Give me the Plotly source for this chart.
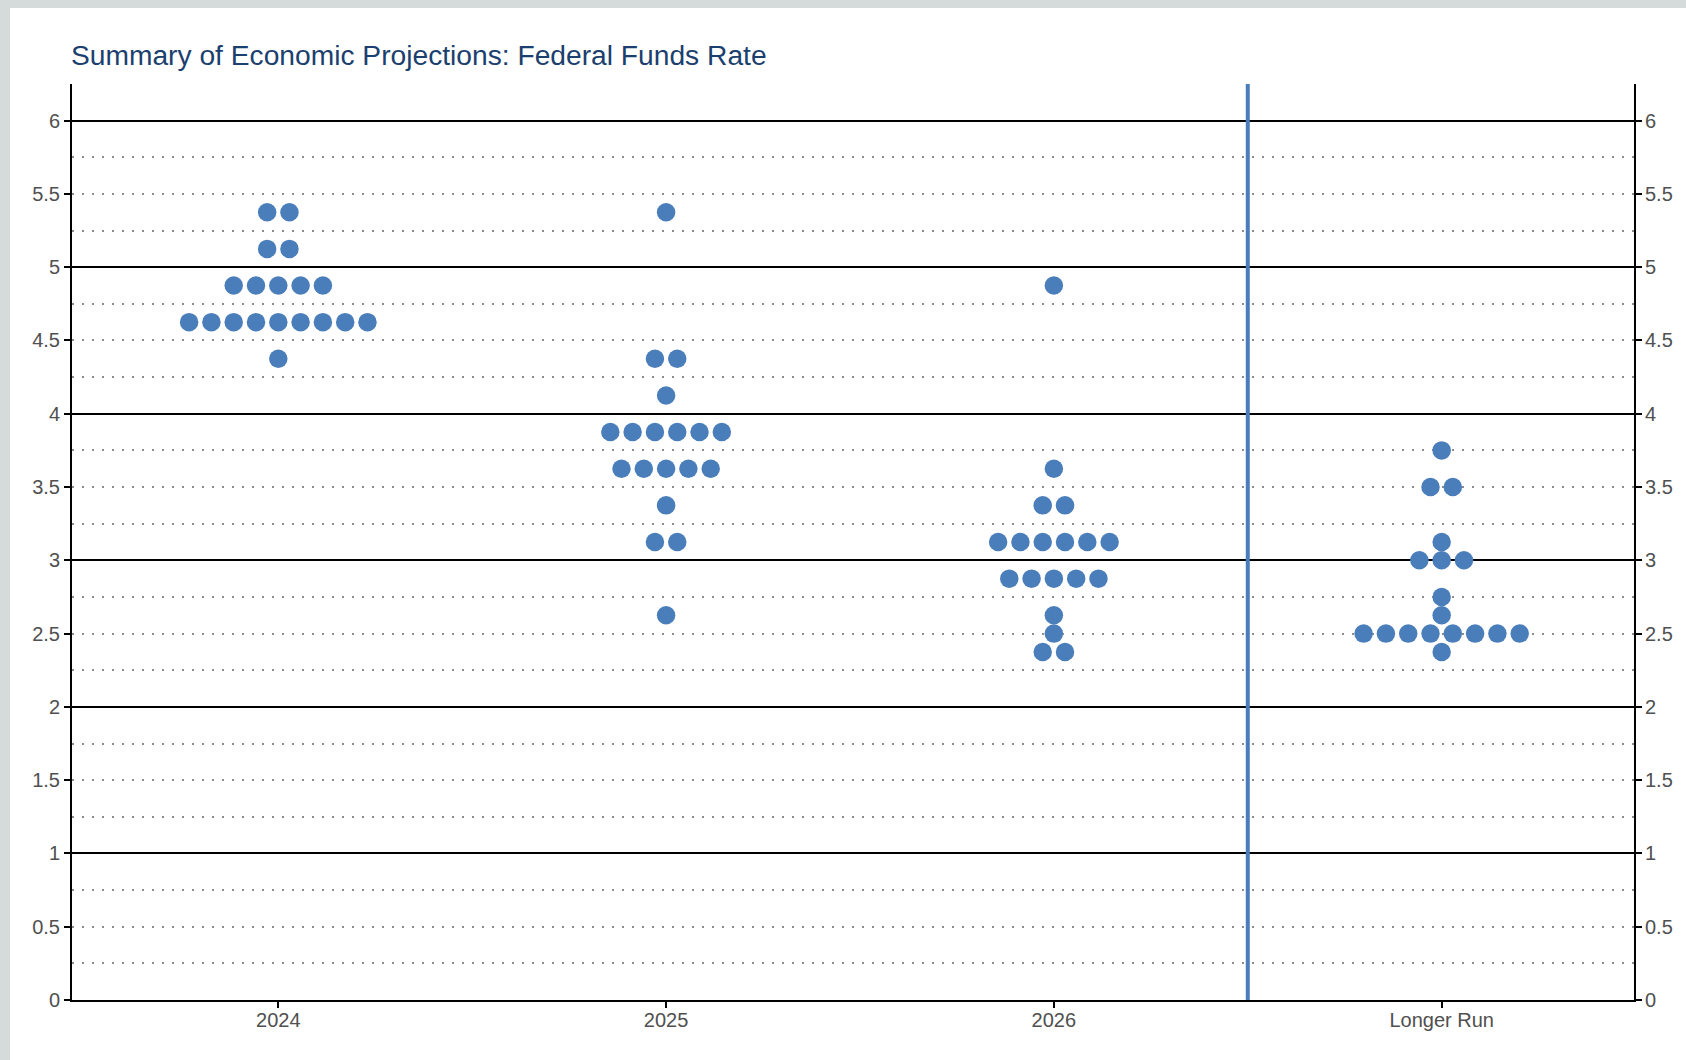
import plotly.graph_objects as go

# FOMC participants' projections of the appropriate federal funds rate
CATEGORIES = ["2024", "2025", "2026", "Longer Run"]

RATES_2024 = [5.375, 5.125, 4.875, 4.625, 4.375]
COUNTS_2024 = [2, 2, 5, 9, 1]

RATES_2025 = [5.375, 4.375, 4.125, 3.875, 3.625, 3.375, 3.125, 2.625]
COUNTS_2025 = [1, 2, 1, 6, 5, 1, 2, 1]

RATES_2026 = [4.875, 3.625, 3.375, 3.125, 2.875, 2.625, 2.5, 2.375]
COUNTS_2026 = [1, 1, 2, 6, 5, 1, 1, 2]

RATES_LR = [3.75, 3.5, 3.125, 3.0, 2.75, 2.625, 2.5, 2.375]
COUNTS_LR = [1, 2, 1, 3, 1, 1, 8, 1]

Y_TICKS = [i * 0.5 for i in range(13)]

DOT_COLOR = "#4a7ebb"
DOT_STEP = 0.0575  # horizontal spacing between side-by-side dots (category units)

# figure geometry (px)
W, H = 1686, 1060
ML, MR, MT, MB = 72, 52, 84, 60
PW, PH = W - ML - MR, H - MT - MB


def px_x(px):
    return (px - ML) / PW


def px_y(py):
    return (H - MB - py) / PH


def dodge(cat_index, rates, counts):
    xs, ys = [], []
    for r, n in zip(rates, counts):
        for k in range(n):
            xs.append(cat_index + (k - (n - 1) / 2) * DOT_STEP)
            ys.append(r)
    return xs, ys


groups = [(RATES_2024, COUNTS_2024), (RATES_2025, COUNTS_2025),
          (RATES_2026, COUNTS_2026), (RATES_LR, COUNTS_LR)]
all_x, all_y = [], []
for i, (rates, counts) in enumerate(groups):
    xs, ys = dodge(i, rates, counts)
    all_x += xs
    all_y += ys

fig = go.Figure()
fig.add_trace(go.Scatter(
    x=all_x, y=all_y, mode="markers",
    marker=dict(size=18.5, color=DOT_COLOR, line=dict(width=0)),
    showlegend=False, hoverinfo="y",
))
# empty traces so the right-hand axis and the grid axis are laid out
fig.add_trace(go.Scatter(x=[], y=[], yaxis="y2", showlegend=False))
fig.add_trace(go.Scatter(x=[], y=[], yaxis="y3", showlegend=False))

Y_RANGE = [0, 6.25]
tick_font = dict(family="Liberation Sans, Arial, sans-serif", size=20, color="#505050")

fig.update_layout(
    width=W, height=H,
    margin=dict(l=ML, r=MR, t=MT, b=MB, pad=0),
    paper_bgcolor="white", plot_bgcolor="white",
    title=dict(
        text="Summary of Economic Projections: Federal Funds Rate",
        font=dict(family="Liberation Sans, Arial, sans-serif", size=28.2, color="#1b3f6e"),
        x=71 / W, xref="container", xanchor="left",
        y=1 - 55 / H, yref="container", yanchor="middle",
    ),
    xaxis=dict(
        range=[-0.532, 3.496],
        tickvals=list(range(len(CATEGORIES))), ticktext=CATEGORIES,
        showgrid=False, zeroline=False,
        showline=True, linecolor="black", linewidth=2,
        ticks="outside", ticklen=6, tickwidth=2, tickcolor="black",
        tickfont=tick_font, ticklabelstandoff=-5,
    ),
    yaxis=dict(
        range=Y_RANGE, tickvals=Y_TICKS, ticktext=[f"{v:g}" for v in Y_TICKS],
        showgrid=False, zeroline=False,
        showline=True, linecolor="black", linewidth=2,
        ticks="outside", ticklen=6, tickwidth=2, tickcolor="black",
        tickfont=tick_font, ticklabelstandoff=0,
    ),
    yaxis2=dict(
        overlaying="y", side="right", anchor="x",
        range=Y_RANGE, tickvals=Y_TICKS, ticktext=[f"{v:g}" for v in Y_TICKS],
        showgrid=False, zeroline=False,
        showline=True, linecolor="black", linewidth=2,
        ticks="outside", ticklen=6, tickwidth=2, tickcolor="black",
        tickfont=tick_font, ticklabelstandoff=-1,
    ),
    yaxis3=dict(
        overlaying="y", anchor="x", range=Y_RANGE,
        tickmode="linear", tick0=0, dtick=1,
        showticklabels=False, ticks="", showline=False, zeroline=False,
        showgrid=True, gridcolor="black", gridwidth=2,
        minor=dict(tickmode="linear", tick0=0, dtick=0.25, showgrid=True,
                   gridcolor="#8c8c8c", gridwidth=2, griddash="2px,8px", ticks=""),
    ),
)

# divider between the dated projections and the longer-run column
divider_x = (CATEGORIES.index("2026") + CATEGORIES.index("Longer Run")) / 2
fig.add_shape(type="line", xref="x", yref="paper", x0=divider_x, x1=divider_x,
              y0=0, y1=1, line=dict(color=DOT_COLOR, width=4), layer="above")

# grey frame strips along the left and top edges of the page
FRAME = "#d5dbdb"
fig.add_shape(type="rect", xref="paper", yref="paper", layer="below",
              x0=px_x(0), x1=px_x(10), y0=px_y(H), y1=px_y(0),
              line=dict(width=0), fillcolor=FRAME)
fig.add_shape(type="rect", xref="paper", yref="paper", layer="below",
              x0=px_x(0), x1=px_x(W), y0=px_y(8), y1=px_y(0),
              line=dict(width=0), fillcolor=FRAME)

fig.write_html("out.html")
